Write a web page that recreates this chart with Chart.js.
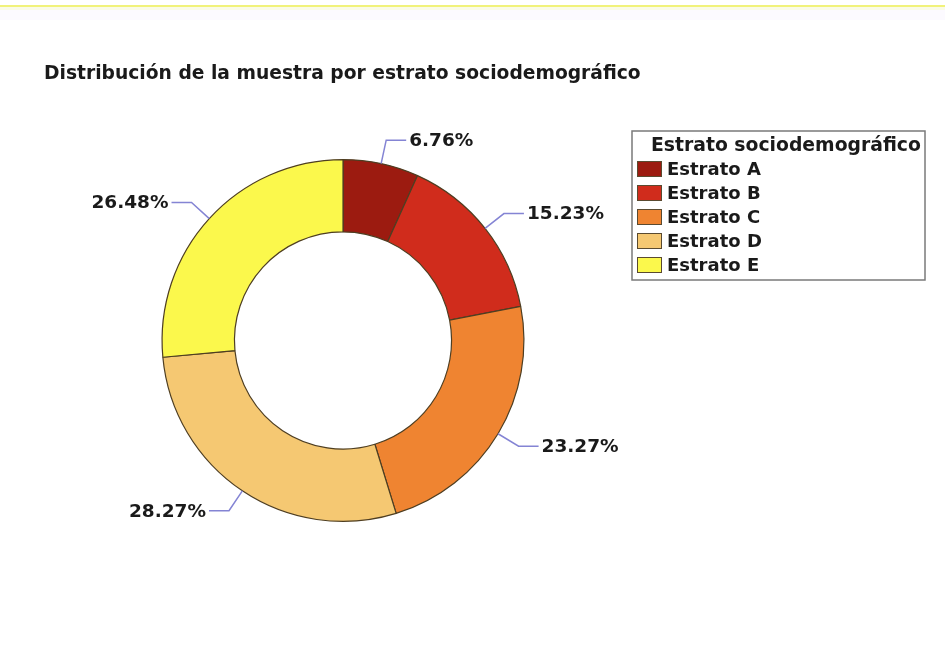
<!DOCTYPE html>
<html>
<head>
<meta charset="utf-8">
<script src="https://cdn.jsdelivr.net/npm/chart.js@4/dist/chart.umd.min.js"></script>
<style>
  html, body { margin: 0; padding: 0; background: #ffffff; }
  canvas { display: block; }
</style>
</head>
<body>
<canvas id="myChart" width="945" height="648"></canvas>
<script>
// Chart data
const categories = ["Estrato A", "Estrato B", "Estrato C", "Estrato D", "Estrato E"];
const percentages = [6.76, 15.23, 23.27, 28.27, 26.48];
const sliceColors = ["#9c1b10", "#d02c1c", "#ef8431", "#f5c872", "#fbf84c"];
const chartTitle = "Distribución de la muestra por estrato sociodemográfico";
const legendTitle = "Estrato sociodemográfico";

const fontFamily = "'DejaVu Sans', 'Liberation Sans', Arial, sans-serif";
const textColor = "#1a1a1a";

// thin yellow rule across the top of the page
const topRule = {
    id: "topRule",
    beforeDraw(chart) {
        const ctx = chart.ctx;
        ctx.save();
        ctx.fillStyle = "#f1f27a";
        ctx.fillRect(0, 5, chart.width, 2);
        ctx.fillStyle = "#fafbe6";
        ctx.fillRect(0, 7, chart.width, 3);
        ctx.fillStyle = "#fcfaff";
        ctx.fillRect(0, 10, chart.width, 10);
        ctx.restore();
    }
};

// percentage labels with leader lines
const sliceLabels = {
    id: "sliceLabels",
    afterDatasetsDraw(chart) {
        const ctx = chart.ctx;
        const meta = chart.getDatasetMeta(0);
        ctx.save();
        ctx.font = "bold 18.5px " + fontFamily;
        ctx.textBaseline = "middle";
        meta.data.forEach((arc, i) => {
            const p = arc.getProps(["x", "y", "startAngle", "endAngle", "outerRadius"], true);
            const mid = (p.startAngle + p.endAngle) / 2;
            const cos = Math.cos(mid), sin = Math.sin(mid);
            const x0 = p.x + cos * p.outerRadius, y0 = p.y + sin * p.outerRadius;
            const x1 = p.x + cos * (p.outerRadius + 24), y1 = p.y + sin * (p.outerRadius + 24);
            const dir = cos >= 0 ? 1 : -1;
            const x2 = x1 + dir * 20;
            ctx.strokeStyle = "#8484d4";
            ctx.lineWidth = 1.5;
            ctx.beginPath();
            ctx.moveTo(x0, y0);
            ctx.lineTo(x1, y1);
            ctx.lineTo(x2, y1);
            ctx.stroke();
            ctx.fillStyle = textColor;
            ctx.textAlign = dir > 0 ? "left" : "right";
            ctx.fillText(percentages[i].toFixed(2) + "%", x2 + dir * 3, y1 + 1);
        });
        ctx.restore();
    }
};

// boxed legend on the right, built from the legend items chart.js generates
const boxedLegend = {
    id: "boxedLegend",
    afterDraw(chart) {
        const ctx = chart.ctx;
        const items = chart.legend.legendItems;
        const left = 632, top = 131, width = 293, height = 149;
        ctx.save();
        ctx.strokeStyle = "#7a7a7a";
        ctx.lineWidth = 1.5;
        ctx.strokeRect(left, top, width, height);
        ctx.fillStyle = textColor;
        ctx.font = "bold 18.8px " + fontFamily;
        ctx.textBaseline = "middle";
        ctx.textAlign = "left";
        ctx.fillText(legendTitle, left + 19, top + 15);
        ctx.font = "bold 18px " + fontFamily;
        items.forEach((item, i) => {
            const cy = top + 38 + i * 24;
            ctx.fillStyle = item.fillStyle;
            ctx.fillRect(left + 5, cy - 8, 25, 16);
            ctx.strokeStyle = "#5a4a30";
            ctx.lineWidth = 1;
            ctx.strokeRect(left + 5.5, cy - 7.5, 24, 15);
            ctx.fillStyle = textColor;
            ctx.fillText(item.text, left + 35, cy + 1);
        });
        ctx.restore();
    }
};

new Chart("myChart", {
    type: "doughnut",
    data: {
        labels: categories,
        datasets: [{
            data: percentages,
            backgroundColor: sliceColors,
            borderColor: "#4e3e22",
            borderWidth: 1.2
        }]
    },
    options: {
        responsive: false,
        animation: false,
        cutout: "60%",
        layout: {
            padding: { left: 44, right: 303, top: 0, bottom: 126 }
        },
        plugins: {
            legend: { display: false },
            tooltip: { enabled: false },
            title: {
                display: true,
                text: chartTitle,
                align: "start",
                color: textColor,
                font: { family: fontFamily, size: 18.7, weight: "bold" },
                padding: { top: 63, bottom: 73.5 }
            }
        }
    },
    plugins: [topRule, sliceLabels, boxedLegend]
});
</script>
</body>
</html>
